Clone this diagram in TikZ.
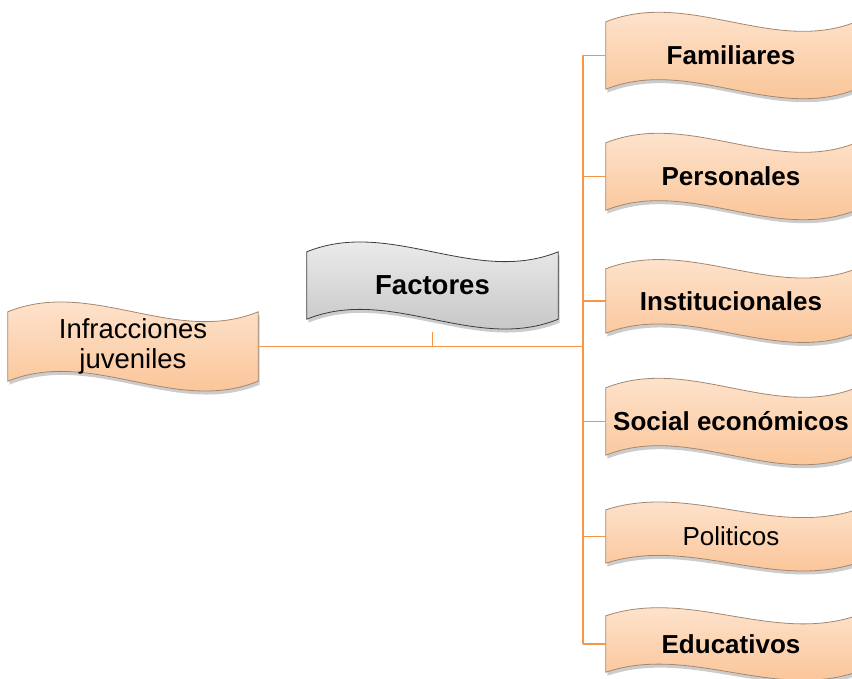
\documentclass[tikz,border=0pt]{standalone}
\usepackage{fontspec}
\setmainfont{Liberation Sans}
\usetikzlibrary{calc, backgrounds, shadows}

\definecolor{linkorange}{RGB}{247,150,70}
\definecolor{peachtop}{RGB}{254,234,217}
\definecolor{peachbot}{RGB}{250,190,140}
\definecolor{peachedge}{RGB}{165,135,110}
\definecolor{greytop}{RGB}{244,244,244}
\definecolor{greybot}{RGB}{190,190,190}
\definecolor{greyedge}{RGB}{60,60,60}

% wave outline around a node: #1 node, #2 style, #3 swing
\newcommand{\wavebox}[3]{%
  \path[#2] (#1.north west)
    .. controls ($(#1.north west)!0.3333!(#1.north east)+(0,-#3)$)
    and ($(#1.north west)!0.6667!(#1.north east)+(0,#3)$) .. (#1.north east)
    -- (#1.south east)
    .. controls ($(#1.south west)!0.6667!(#1.south east)+(0,#3)$)
    and ($(#1.south west)!0.3333!(#1.south east)+(0,-#3)$) .. (#1.south west)
    -- cycle;}

\begin{document}
\begin{tikzpicture}[x=1pt, y=-1pt,
  box/.style={inner sep=0pt, align=center, text=black},
  rightbox/.style={box, minimum width=250pt, font=\fontsize{26}{30}\selectfont\bfseries},
  peach/.style={draw=peachedge, line width=0.8pt, top color=peachtop, bottom color=peachbot,
    drop shadow={shadow xshift=1.5pt, shadow yshift=-3.5pt, fill=black, opacity=0.2}},
  grey/.style={draw=greyedge, line width=0.8pt, top color=greytop, bottom color=greybot,
    drop shadow={shadow xshift=1.5pt, shadow yshift=-3.5pt, fill=black, opacity=0.2}},
  link/.style={draw=linkorange, line width=1.9pt}]
  \useasboundingbox (0, 0) rectangle (852, 679);

  % Root and middle label
  \node[box, minimum width=250pt, minimum height=69pt, font=\fontsize{27.5}{29.5}\selectfont]
    (inf) at (133, 346.5) {Infracciones\\juveniles};
  \node[box, minimum width=251pt, minimum height=67pt, font=\fontsize{27.5}{30}\selectfont\bfseries]
    (fac) at (432.5, 285.5) {Factores};

  % Factor boxes
  \node[rightbox, minimum height=67pt] (fam) at (731, 55.5) {Familiares};
  \node[rightbox, minimum height=67pt] (per) at (731, 176.5) {Personales};
  \node[rightbox, minimum height=64pt] (ins) at (731, 301) {Institucionales};
  \node[rightbox, minimum height=67pt] (soc) at (731, 421.5) {Social económicos};
  \node[rightbox, minimum height=53pt, font=\fontsize{26}{30}\selectfont] (pol) at (731, 536.5) {Politicos};
  \node[rightbox, minimum height=56pt] (edu) at (731, 644) {Educativos};

  % Wave shapes behind the texts
  \begin{pgfonlayer}{background}
    \wavebox{inf}{peach}{34}
    \wavebox{fac}{grey}{34}
    \wavebox{fam}{peach}{33}
    \wavebox{per}{peach}{33}
    \wavebox{ins}{peach}{32}
    \wavebox{soc}{peach}{33}
    \wavebox{pol}{peach}{27}
    \wavebox{edu}{peach}{28}
  \end{pgfonlayer}

  % Connectors
  \coordinate (trunk) at (583, 346.5);
  \coordinate (facfoot) at (432.5, 332);
  \draw[link] (inf.east) -- (trunk);
  \draw[link] (facfoot) -- (facfoot |- inf.east);
  \draw[link] (trunk |- fam.west) -- (trunk |- edu.west);
  \draw[link] (trunk |- fam.west) -- (fam.west);
  \draw[link] (trunk |- per.west) -- (per.west);
  \draw[link] (trunk |- ins.west) -- (ins.west);
  \draw[link] (trunk |- soc.west) -- (soc.west);
  \draw[link] (trunk |- pol.west) -- (pol.west);
  \draw[link] (trunk |- edu.west) -- (edu.west);
\end{tikzpicture}
\end{document}
